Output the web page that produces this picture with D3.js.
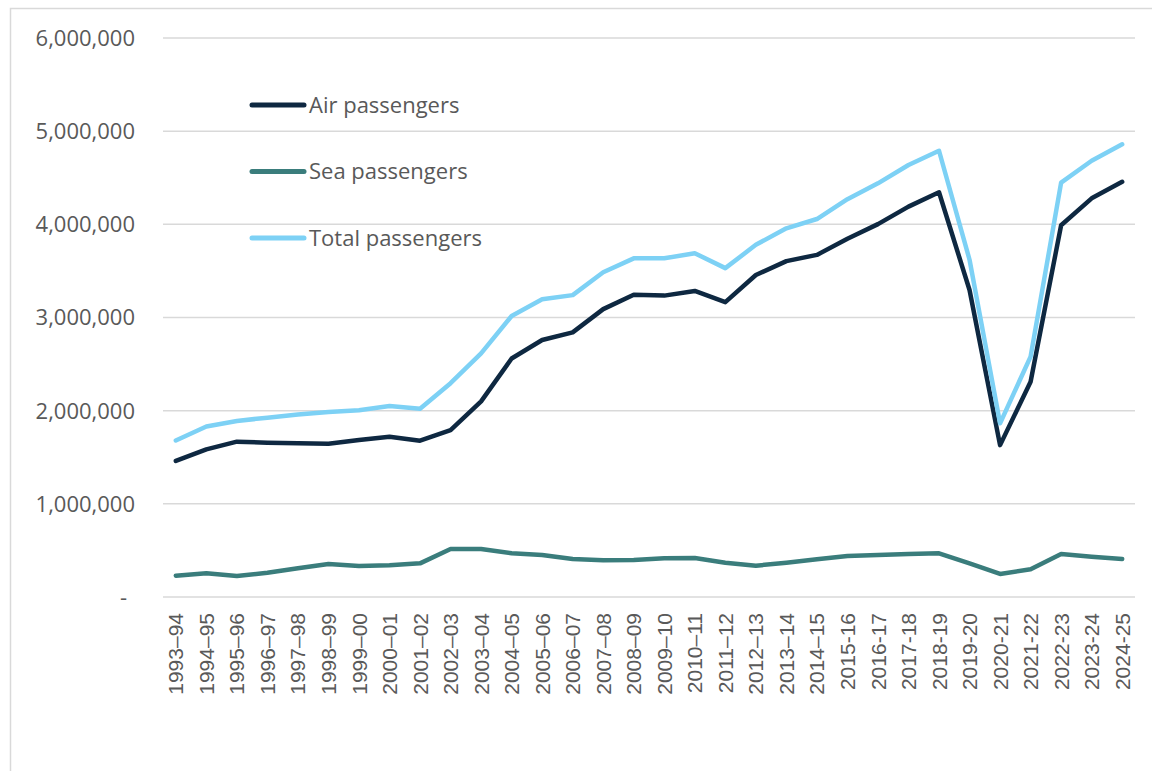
<!DOCTYPE html>
<html>
<head>
  <script src="https://d3js.org/d3.v7.min.js"></script>
  <style>
    body { margin: 0; background: white; }
    svg { display: block; }
    .ytick { font-family: "Open Sans", sans-serif; font-size: 22px; fill: #595959; }
    .xtick { font-family: "Liberation Sans", Arial, sans-serif; font-size: 21px; fill: #595959; }
    .legend-text { font-family: "Open Sans", sans-serif; font-size: 22px; fill: #595959; }
  </style>
</head>
<body>
<svg id="chart" width="1152" height="771"></svg>
<script>
  // ---- data ----
  const years = [
    "1993–94", "1994–95", "1995–96", "1996–97", "1997–98", "1998–99", "1999–00", "2000–01",
    "2001–02", "2002–03", "2003–04", "2004–05", "2005–06", "2006–07", "2007–08", "2008–09",
    "2009–10", "2010–11", "2011–12", "2012–13", "2013–14", "2014–15", "2015-16", "2016-17",
    "2017-18", "2018-19", "2019-20", "2020-21", "2021-22", "2022-23", "2023-24", "2024-25"
  ];
  const airPassengers = [
    1460000, 1585000, 1667000, 1656000, 1650000, 1645000, 1685000, 1720000,
    1678000, 1790000, 2100000, 2560000, 2758000, 2840000, 3090000, 3245000,
    3235000, 3285000, 3165000, 3456000, 3605000, 3672000, 3845000, 4002000,
    4190000, 4344000, 3295000, 1630000, 2310000, 3990000, 4279000, 4457000
  ];
  const seaPassengers = [
    229000, 254000, 225000, 261000, 308000, 354000, 333000, 340000,
    361000, 515000, 515000, 469000, 450000, 408000, 394000, 397000,
    415000, 418000, 368000, 336000, 368000, 405000, 440000, 450000,
    461000, 469000, 361000, 247000, 297000, 461000, 433000, 408000
  ];
  const totalPassengers = [
    1680000, 1830000, 1890000, 1925000, 1960000, 1985000, 2005000, 2050000,
    2020000, 2295000, 2615000, 3016000, 3195000, 3240000, 3485000, 3635000,
    3635000, 3690000, 3530000, 3780000, 3957000, 4057000, 4270000, 4440000,
    4637000, 4790000, 3620000, 1864000, 2580000, 4447000, 4683000, 4859000
  ];
  const yTicks = [0, 1000000, 2000000, 3000000, 4000000, 5000000, 6000000];

  const series = [
    { name: "Air passengers", values: airPassengers, color: "#0E2841" },
    { name: "Sea passengers", values: seaPassengers, color: "#3A7D7C" },
    { name: "Total passengers", values: totalPassengers, color: "#7DD1F5" }
  ];

  // ---- layout ----
  const svg = d3.select("#chart");
  const plotLeft = 163, plotRight = 1135, plotTop = 38, plotBottom = 597;

  // chart frame
  svg.append("rect")
    .attr("x", 10.5).attr("y", 8.5)
    .attr("width", 1160).attr("height", 780)
    .attr("fill", "none")
    .attr("stroke", "#d9d9d9")
    .attr("stroke-width", 1.5);

  const x = d3.scalePoint()
    .domain(years)
    .range([plotLeft, plotRight])
    .padding(0.42);

  const y = d3.scaleLinear()
    .domain([0, 6000000])
    .range([plotBottom, plotTop]);

  // gridlines
  svg.append("g")
    .selectAll("line")
    .data(yTicks)
    .join("line")
    .attr("x1", plotLeft).attr("x2", plotRight)
    .attr("y1", d => y(d)).attr("y2", d => y(d))
    .attr("stroke", "#d9d9d9")
    .attr("stroke-width", 1.5);

  // y labels
  const fmt = d3.format(",");
  svg.append("g")
    .selectAll("text")
    .data(yTicks)
    .join("text")
    .attr("class", "ytick")
    .attr("x", d => d === 0 ? 127 : 135)
    .attr("y", d => y(d))
    .attr("dy", "0.36em")
    .attr("text-anchor", "end")
    .text(d => d === 0 ? "-" : fmt(d));

  // x labels, rotated
  svg.append("g")
    .selectAll("text")
    .data(years)
    .join("text")
    .attr("class", "xtick")
    .attr("text-anchor", "end")
    .attr("transform", d => `translate(${x(d)},613) rotate(-90)`)
    .attr("dy", "0.36em")
    .text(d => d);

  // lines
  const line = d3.line()
    .x((d, i) => x(years[i]))
    .y(d => y(d));

  series.forEach(s => {
    svg.append("path")
      .datum(s.values)
      .attr("fill", "none")
      .attr("stroke", s.color)
      .attr("stroke-width", 4.5)
      .attr("stroke-linejoin", "round")
      .attr("stroke-linecap", "round")
      .attr("d", line);
  });

  // legend
  const legend = svg.append("g");
  series.forEach((s, i) => {
    const ly = 105 + i * 66.5;
    legend.append("line")
      .attr("x1", 252).attr("x2", 304)
      .attr("y1", ly).attr("y2", ly)
      .attr("stroke", s.color)
      .attr("stroke-width", 5)
      .attr("stroke-linecap", "round");
    legend.append("text")
      .attr("class", "legend-text")
      .attr("x", 309)
      .attr("y", ly)
      .attr("dy", "0.36em")
      .text(s.name);
  });
</script>
</body>
</html>
